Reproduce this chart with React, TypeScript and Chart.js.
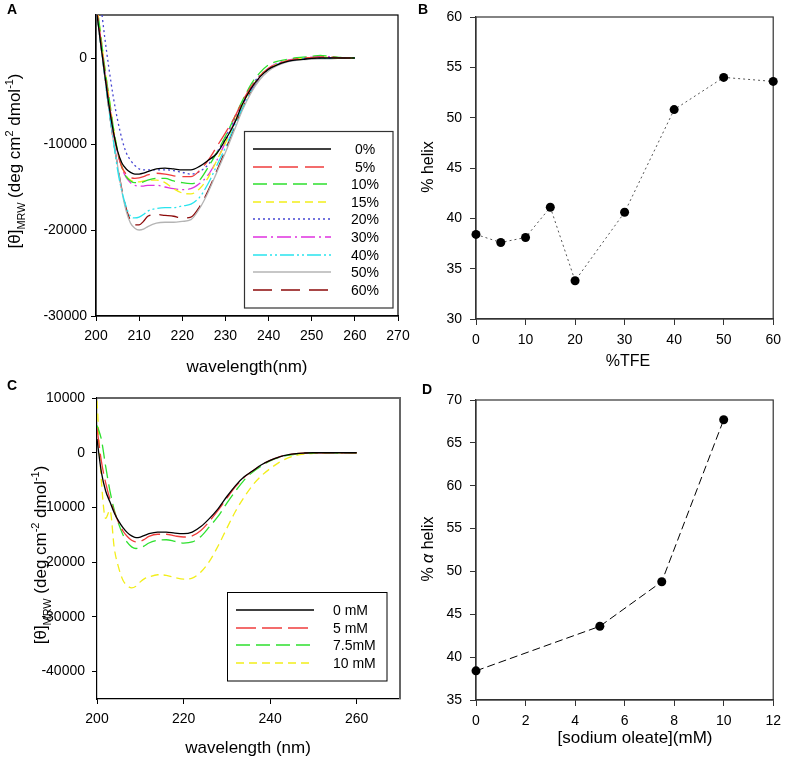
import React, { useEffect, useRef } from 'react';
import { Chart, registerables } from 'chart.js';

Chart.register(...registerables);

const FONT = '"Liberation Sans", Arial, Helvetica, sans-serif';
const PAGE_W = 788;
const PAGE_H = 760;

// ---------------- Panel A / C shared wavelength axis (nm) ----------------
const wavelength = [200, 201, 202, 203, 204, 205, 206, 207, 208, 209, 210, 211, 212, 214, 216, 218, 220, 222, 224, 226, 228, 230, 232, 234, 236, 238, 240, 242, 244, 246, 248, 250, 252, 254, 256, 258, 260];

// ---------------- Panel A: CD spectra in TFE ----------------
const tfeLabels = ['0%', '5%', '10%', '15%', '20%', '30%', '40%', '50%', '60%'];
const tfe0 = [6000, 2000, -1800, -5500, -8500, -10800, -12200, -12900, -13300, -13500, -13500, -13400, -13200, -12900, -12800, -12900, -13000, -13000, -12600, -11900, -11100, -9500, -7700, -5300, -3500, -2200, -1300, -800, -450, -250, -150, -50, 0, 0, 0, 0, 0];
const tfe5 = [6500, 2500, -1500, -5000, -8500, -11000, -12700, -13500, -13900, -14000, -13950, -13800, -13600, -13400, -13500, -13700, -13800, -13800, -13100, -11900, -10300, -8700, -7000, -5000, -3300, -2100, -1200, -700, -350, -150, 0, 50, 100, 100, 50, 0, 0];
const tfe10 = [7000, 3000, -1000, -4500, -8000, -10800, -12700, -13800, -14300, -14500, -14500, -14400, -14200, -14000, -14000, -14300, -14500, -14600, -14200, -12700, -11000, -9100, -7000, -4900, -3000, -1700, -800, -400, -200, 0, 100, 200, 300, 200, 100, 0, 0];
const tfe15 = [7000, 3000, -1000, -4500, -8000, -10800, -12600, -13700, -14200, -14400, -14400, -14300, -14200, -14200, -14500, -15200, -15700, -15800, -15200, -13900, -11900, -9900, -7600, -5400, -3500, -2100, -1200, -700, -350, -150, 0, 50, 100, 50, 0, 0, 0];
const tfe20 = [9000, 6500, 2500, -1200, -4500, -7200, -9400, -11000, -11900, -12500, -12900, -13000, -13000, -13000, -13000, -13100, -13300, -13500, -13200, -12400, -11000, -9200, -7200, -5100, -3300, -2000, -1200, -700, -400, -200, -100, 0, 0, 0, 0, 0, 0];
const tfe30 = [6000, 2500, -1500, -5000, -8500, -11000, -12800, -13900, -14500, -14800, -14900, -14900, -14800, -14800, -15000, -15200, -15300, -15200, -14600, -13600, -11900, -9800, -7500, -5400, -3600, -2200, -1200, -600, -300, -100, 0, 100, 200, 150, 50, 0, 0];
const tfe40 = [6000, 2000, -2000, -6000, -9500, -13000, -15500, -17300, -18400, -18600, -18500, -18200, -17800, -17500, -17400, -17400, -17200, -17000, -16200, -14600, -12500, -10400, -8000, -5700, -3700, -2200, -1300, -700, -400, -200, -100, 0, 0, -50, 0, 0, 0];
const tfe50 = [6000, 2000, -2000, -6000, -9500, -12500, -15500, -17800, -19200, -19800, -20000, -19900, -19600, -19200, -19100, -19100, -19000, -18800, -17500, -15600, -13300, -11000, -8500, -6000, -4000, -2500, -1500, -900, -500, -300, -200, -150, -100, -100, -50, 0, 0];
const tfe60 = [6000, 2000, -2000, -6000, -9500, -12500, -15300, -17500, -18900, -19400, -19400, -19000, -18400, -18200, -18300, -18400, -18600, -18500, -17300, -15400, -13100, -10700, -8200, -5800, -3800, -2300, -1300, -800, -400, -200, -100, 0, 0, 0, 0, 0, 0];
const tfeSeries = [tfe0, tfe5, tfe10, tfe15, tfe20, tfe30, tfe40, tfe50, tfe60];
const tfeColors = ['#000000', '#f03c3c', '#2ee02e', '#f2ee1a', '#4646d2', '#e032e0', '#28e4ee', '#b4b4b4', '#8c0a0a'];
const tfeDashes = [[], [19, 7], [14, 6], [8, 5], [2, 3], [14, 4, 2, 4], [14, 3, 2, 3, 2, 3], [], [19, 9]];
const aXTicks = [200, 210, 220, 230, 240, 250, 260, 270];
const aYTicks = [-30000, -20000, -10000, 0];

// ---------------- Panel B: % helix vs %TFE ----------------
const tfePercent = [0, 5, 10, 15, 20, 30, 40, 50, 60];
const helixTFE = [38.4, 37.6, 38.1, 41.1, 33.8, 40.6, 50.8, 54.0, 53.6];
const bXTicks = [0, 10, 20, 30, 40, 50, 60];
const bYTicks = [30, 35, 40, 45, 50, 55, 60];

// ---------------- Panel C: CD spectra with sodium oleate ----------------
const oleateLabels = ['0 mM', '5 mM', '7.5mM', '10 mM'];
const oleate0 = [2500, -3500, -7000, -9000, -11000, -12500, -13700, -14600, -15200, -15500, -15400, -15100, -14800, -14500, -14500, -14700, -14800, -14500, -13500, -12000, -10200, -8000, -6000, -4400, -3300, -2200, -1400, -800, -400, -150, -50, 0, 0, 0, 0, 0, 0];
const oleate5 = [4500, -1500, -5500, -8500, -10800, -12800, -14300, -15300, -16000, -16300, -16200, -15800, -15300, -14900, -14900, -15200, -15400, -15200, -14200, -12500, -10500, -8300, -6200, -4500, -3300, -2200, -1400, -800, -400, -150, -50, 0, 0, 0, 0, 0, 0];
const oleate75 = [5000, 2500, -2500, -7000, -10500, -13000, -15000, -16400, -17200, -17500, -17400, -17000, -16500, -16000, -15900, -16200, -16500, -16300, -15300, -13500, -11600, -9200, -7000, -5000, -3500, -2400, -1500, -900, -500, -250, -100, 0, 0, 0, 0, 0, 0];
const oleate10 = [9500, -5000, -12000, -10500, -17500, -21000, -23300, -24300, -24700, -24400, -23600, -23000, -22700, -22300, -22400, -22800, -23100, -22900, -21800, -19800, -17000, -13800, -10700, -8100, -5900, -4200, -2900, -1800, -1000, -500, -250, -100, -50, 0, 0, 0, 0];
const oleateSeries = [oleate0, oleate5, oleate75, oleate10];
const oleateColors = ['#000000', '#f03c3c', '#2ee02e', '#f2ee1a'];
const oleateDashes = [[], [20, 6], [14, 6], [8, 5]];
const cXTicks = [200, 220, 240, 260];
const cYTicks = [-40000, -30000, -20000, -10000, 0, 10000];

// ---------------- Panel D: % alpha helix vs [sodium oleate] ----------------
const oleateConc = [0, 5, 7.5, 10];
const helixOleate = [38.4, 43.6, 48.8, 67.7];
const dXTicks = [0, 2, 4, 6, 8, 10, 12];
const dYTicks = [35, 40, 45, 50, 55, 60, 65, 70];

// ---------------- helpers ----------------
type Seg = { t: string; k?: 'sub' | 'sup'; it?: boolean };

function drawRich(ctx: CanvasRenderingContext2D, segs: Seg[], cx: number, cy: number, rotate: boolean, size: number) {
  ctx.save();
  ctx.translate(cx, cy);
  if (rotate) ctx.rotate(-Math.PI / 2);
  const small = size * 0.64;
  const fontOf = (s: Seg) => `${s.it ? 'italic ' : ''}${s.k ? small : size}px ${FONT}`;
  let total = 0;
  for (const s of segs) {
    ctx.font = fontOf(s);
    total += ctx.measureText(s.t).width;
  }
  let x = -total / 2;
  ctx.textAlign = 'left';
  ctx.textBaseline = 'alphabetic';
  ctx.fillStyle = '#000';
  for (const s of segs) {
    ctx.font = fontOf(s);
    const dy = s.k === 'sub' ? size * 0.3 : s.k === 'sup' ? -size * 0.42 : 0;
    ctx.fillText(s.t, x, dy);
    x += ctx.measureText(s.t).width;
  }
  ctx.restore();
}

function text(ctx: CanvasRenderingContext2D, t: string, x: number, y: number, font: string, align: CanvasTextAlign = 'left') {
  ctx.font = font;
  ctx.fillStyle = '#000';
  ctx.textAlign = align;
  ctx.textBaseline = 'alphabetic';
  ctx.fillText(t, x, y);
}

type Area = { l: number; t: number; r: number; b: number };
type AxisSpec = { min: number; max: number; ticks: number[] };

interface PanelSpec {
  area: Area;
  x: AxisSpec;
  y: AxisSpec;
  datasets: any[];
  axisColor: string;
  tickLen: number;
  yPad: number;
  xPad: number;
  frame: (ctx: CanvasRenderingContext2D, a: any) => void;
  decorate: (ctx: CanvasRenderingContext2D) => void;
}

const Y_AXIS_W = 80;
const X_AXIS_H = 50;

function buildConfig(spec: PanelSpec): any {
  const { l, t, r, b } = spec.area;
  const tickFont = { size: 14, family: FONT };
  const mkScale = (ax: AxisSpec, horizontal: boolean, pad: number) => ({
    type: 'linear',
    min: ax.min,
    max: ax.max,
    afterBuildTicks: (s: any) => {
      s.ticks = ax.ticks.map((v) => ({ value: v }));
    },
    ticks: {
      autoSkip: false,
      maxRotation: 0,
      font: tickFont,
      color: '#000',
      padding: pad,
      callback: (v: number) => String(v),
    },
    grid: {
      display: true,
      drawOnChartArea: false,
      drawTicks: true,
      tickLength: spec.tickLen,
      color: spec.axisColor,
      lineWidth: 1,
    },
    border: { display: true, color: spec.axisColor, width: 1.2 },
    afterFit: (s: any) => {
      if (horizontal) s.height = X_AXIS_H;
      else s.width = Y_AXIS_W;
    },
  });
  return {
    type: 'line',
    data: { datasets: spec.datasets },
    options: {
      animation: false,
      responsive: false,
      devicePixelRatio: 1,
      events: [],
      layout: {
        padding: { left: l - Y_AXIS_W, top: t, right: PAGE_W - r, bottom: PAGE_H - b - X_AXIS_H },
      },
      plugins: { legend: { display: false }, tooltip: { enabled: false }, title: { display: false } },
      scales: {
        x: mkScale(spec.x, true, spec.xPad),
        y: mkScale(spec.y, false, spec.yPad),
      },
    },
    plugins: [
      {
        id: 'deco',
        beforeDatasetsDraw(chart: any) {
          const ctx = chart.ctx;
          ctx.save();
          spec.frame(ctx, chart.chartArea);
          ctx.restore();
        },
        afterDraw(chart: any) {
          const ctx = chart.ctx;
          ctx.save();
          spec.decorate(ctx);
          ctx.restore();
        },
      },
    ],
  };
}

function Panel({ spec }: { spec: PanelSpec }) {
  const ref = useRef<HTMLCanvasElement>(null);
  useEffect(() => {
    const chart = new Chart(ref.current as HTMLCanvasElement, buildConfig(spec));
    return () => chart.destroy();
  }, []);
  return (
    <canvas
      ref={ref}
      width={PAGE_W}
      height={PAGE_H}
      style={{ position: 'absolute', left: 0, top: 0, width: PAGE_W, height: PAGE_H }}
    />
  );
}

const spectrumDataset = (ys: number[], color: string, dash: number[]) => ({
  data: wavelength.map((x, i) => ({ x, y: ys[i] })),
  borderColor: color,
  borderWidth: 1.3,
  borderDash: dash,
  pointRadius: 0,
  fill: false,
  cubicInterpolationMode: 'monotone',
});

const strokeBox = (ctx: CanvasRenderingContext2D, a: any, color: string, lw: number) => {
  ctx.strokeStyle = color;
  ctx.lineWidth = lw;
  ctx.setLineDash([]);
  ctx.strokeRect(a.left, a.top, a.right - a.left, a.bottom - a.top);
};

const legendLine = (ctx: CanvasRenderingContext2D, x0: number, x1: number, y: number, color: string, dash: number[]) => {
  ctx.strokeStyle = color;
  ctx.lineWidth = 1.6;
  ctx.setLineDash(dash);
  ctx.beginPath();
  ctx.moveTo(x0, y);
  ctx.lineTo(x1, y);
  ctx.stroke();
  ctx.setLineDash([]);
};

// ---------------- panel specs ----------------
const specA: PanelSpec = {
  area: { l: 96, t: 15, r: 398, b: 316 },
  x: { min: 200, max: 270, ticks: aXTicks },
  y: { min: -30000, max: 5000, ticks: aYTicks },
  datasets: tfeSeries.map((s, i) => spectrumDataset(s, tfeColors[i], tfeDashes[i])),
  axisColor: '#000',
  tickLen: 5,
  yPad: 4,
  xPad: 7,
  frame: (ctx, a) => strokeBox(ctx, a, '#000', 1.2),
  decorate: (ctx) => {
    ctx.fillStyle = '#fff';
    ctx.fillRect(244, 131, 149, 177);
    ctx.strokeStyle = '#333';
    ctx.lineWidth = 1.2;
    ctx.setLineDash([]);
    ctx.strokeRect(244.5, 131.5, 148.5, 176.5);
    tfeLabels.forEach((lab, i) => {
      const y = Math.round(149 + i * 17.6);
      legendLine(ctx, 253, 331, y, tfeColors[i], tfeDashes[i]);
      ctx.font = `14px ${FONT}`;
      ctx.fillStyle = '#000';
      ctx.textAlign = 'center';
      ctx.textBaseline = 'middle';
      ctx.fillText(lab, 365, y + 1);
    });
    text(ctx, 'wavelength(nm)', 247, 372, `17px ${FONT}`, 'center');
    drawRich(ctx, [
      { t: '[θ]' }, { t: 'MRW', k: 'sub' }, { t: ' (deg cm' }, { t: '2', k: 'sup' }, { t: ' dmol' }, { t: '-1', k: 'sup' }, { t: ')' },
    ], 20, 161, true, 17);
    text(ctx, 'A', 7, 14, `bold 14px ${FONT}`);
  },
};

const specB: PanelSpec = {
  area: { l: 476, t: 17, r: 779, b: 319 },
  x: { min: 0, max: 60, ticks: bXTicks },
  y: { min: 30, max: 60, ticks: bYTicks },
  datasets: [
    {
      data: tfePercent.map((x, i) => ({ x, y: helixTFE[i] })),
      borderColor: '#555',
      borderWidth: 1,
      borderDash: [2, 3],
      pointRadius: 4.5,
      pointBackgroundColor: '#000',
      pointBorderColor: '#000',
      pointBorderWidth: 0,
      tension: 0,
      clip: false,
    },
  ],
  axisColor: '#333',
  tickLen: 6,
  yPad: 8,
  xPad: 7,
  frame: (ctx, a) => strokeBox(ctx, a, '#333', 1.2),
  decorate: (ctx) => {
    text(ctx, '%TFE', 628, 366, `16px ${FONT}`, 'center');
    drawRich(ctx, [{ t: '% helix' }], 433, 167, true, 16);
    text(ctx, 'B', 418, 14, `bold 14px ${FONT}`);
  },
};

const specC: PanelSpec = {
  area: { l: 97, t: 398, r: 400, b: 699 },
  x: { min: 200, max: 270, ticks: cXTicks },
  y: { min: -45000, max: 10000, ticks: cYTicks },
  datasets: oleateSeries.map((s, i) => spectrumDataset(s, oleateColors[i], oleateDashes[i])),
  axisColor: '#000',
  tickLen: 5,
  yPad: 7,
  xPad: 7,
  frame: (ctx, a) => {
    ctx.strokeStyle = '#666';
    ctx.lineWidth = 2;
    ctx.beginPath();
    ctx.moveTo(a.left, a.top);
    ctx.lineTo(a.right, a.top);
    ctx.lineTo(a.right, a.bottom);
    ctx.stroke();
  },
  decorate: (ctx) => {
    ctx.fillStyle = '#fff';
    ctx.fillRect(227, 592, 160, 89);
    ctx.strokeStyle = '#000';
    ctx.lineWidth = 1;
    ctx.setLineDash([]);
    ctx.strokeRect(227.5, 592.5, 159.5, 88.5);
    oleateLabels.forEach((lab, i) => {
      const y = Math.round(610 + i * 17.6);
      legendLine(ctx, 236, 314, y, oleateColors[i], oleateDashes[i]);
      ctx.font = `14px ${FONT}`;
      ctx.fillStyle = '#000';
      ctx.textAlign = 'left';
      ctx.textBaseline = 'middle';
      ctx.fillText(lab, 333, y + 1);
    });
    text(ctx, 'wavelength (nm)', 248, 753, `17px ${FONT}`, 'center');
    drawRich(ctx, [
      { t: '[θ]' }, { t: 'MRW', k: 'sub' }, { t: ' (deg cm' }, { t: '-2', k: 'sup' }, { t: ' dmol' }, { t: '-1', k: 'sup' }, { t: ')' },
    ], 46, 555, true, 17);
    text(ctx, 'C', 7, 390, `bold 14px ${FONT}`);
  },
};

const specD: PanelSpec = {
  area: { l: 476, t: 400, r: 777, b: 700 },
  x: { min: 0, max: 12, ticks: dXTicks },
  y: { min: 35, max: 70, ticks: dYTicks },
  datasets: [
    {
      data: oleateConc.map((x, i) => ({ x, y: helixOleate[i] })),
      borderColor: '#000',
      borderWidth: 1,
      borderDash: [8, 4],
      pointRadius: 4.5,
      pointBackgroundColor: '#000',
      pointBorderColor: '#000',
      pointBorderWidth: 0,
      tension: 0,
      clip: false,
    },
  ],
  axisColor: '#333',
  tickLen: 6,
  yPad: 8,
  xPad: 7,
  frame: (ctx, a) => strokeBox(ctx, a, '#333', 1.2),
  decorate: (ctx) => {
    text(ctx, '[sodium oleate](mM)', 635, 743, `17px ${FONT}`, 'center');
    drawRich(ctx, [{ t: '% ' }, { t: 'α', it: true }, { t: ' helix' }], 433, 549, true, 16);
    text(ctx, 'D', 422, 394, `bold 14px ${FONT}`);
  },
};

export default function App() {
  return (
    <div style={{ position: 'absolute', left: 0, top: 0, width: PAGE_W, height: PAGE_H, background: '#fff', overflow: 'hidden' }}>
      <Panel spec={specA} />
      <Panel spec={specB} />
      <Panel spec={specC} />
      <Panel spec={specD} />
    </div>
  );
}
